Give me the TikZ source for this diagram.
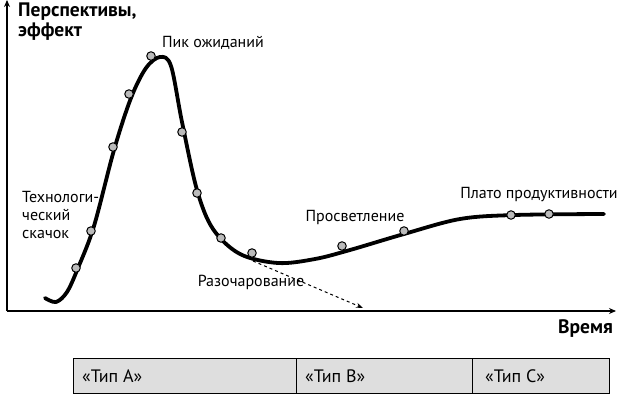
\documentclass[tikz,border=0pt]{standalone}
\usepackage{fontspec}
\setmainfont{PT Sans}
\usetikzlibrary{arrows.meta}
\definecolor{boxgray}{HTML}{DEDEDE}
\definecolor{dotgray}{HTML}{BBBBBB}
\tikzset{
  lbl/.style={inner sep=0pt, font=\fontsize{16}{18}\selectfont},
  bold/.style={inner sep=0pt, font=\fontsize{19.5}{21}\selectfont\bfseries},
  dot/.style={circle, draw=black, fill=dotgray, line width=1pt, minimum size=8.5pt, inner sep=0pt},
  phase/.style={draw=black, fill=boxgray, line width=1.2pt, minimum height=35pt, anchor=north west, inner sep=0pt},
  ptxt/.style={inner sep=0pt, anchor=west, font=\fontsize{18}{20}\selectfont},
  axis/.style={line width=1.8pt, -{Stealth[length=7pt,width=6pt]}}
}
\begin{document}
\begin{tikzpicture}[x=1pt,y=-1pt]
\useasboundingbox (0,0) rectangle (620,396);
% axes
\coordinate (O) at (7,311);
\coordinate (Ytop) at (7,0);
\coordinate (Xend) at (616,311);
\draw[axis] (O) -- (Ytop);
\draw[axis] (O) -- (Xend);
% axis labels
\node[bold, anchor=west] (ylab1) at (18,12) {Перспективы,};
\node[bold, anchor=west] (ylab2) at (18,32) {эффект};
\node[bold, anchor=east] (xlab) at (613,329) {Время};
% dashed arrow
\coordinate (dstart) at (253,261);
\coordinate (dend) at (363,308);
\draw[dashed, line width=1pt, -{Stealth[length=7pt,width=5pt]}] (dstart) -- (dend);
% curve
\draw[line width=3.8pt, line cap=round, line join=round] plot[smooth, tension=0.55] coordinates {
 (45,298) (56,302) (67,292) (78,268) (94,226) (114,150) (131,98) (146,68) (160,57) (171,66)
 (182,122) (197,190) (213,229) (240,254) (278,263) (315,259) (350,250) (404,234) (460,219) (515,215) (604,214)};
% dots
\foreach \i/\p in {1/{(76,268)},2/{(91,231)},3/{(113,147)},4/{(129,94)},5/{(151,56)},6/{(182,132)},7/{(197,193)},8/{(221,238)},9/{(252,253)},10/{(342,246)},11/{(404,231)},12/{(511,215)},13/{(549,214)}}
  \node[dot] (d\i) at \p {};
% labels
\node[lbl, align=left, anchor=north west] (tech) at (22,191) {Технологи-\\ческий\\скачок};
\node[lbl] (peak) at (213,43) {Пик ожиданий};
\node[lbl] (trough) at (251,282) {Разочарование};
\node[lbl] (slope) at (355,217) {Просветление};
\node[lbl] (plateau) at (539,195) {Плато продуктивности};
% phase boxes
\node[phase, minimum width=223pt] (pa) at (73,358) {};
\node[phase, minimum width=176pt] (pb) at (296,358) {};
\node[phase, minimum width=137pt] (pc) at (472,358) {};
\node[ptxt] (ta) at ([xshift=9pt]pa.west) {«Тип А»};
\node[ptxt] (tb) at ([xshift=9pt]pb.west) {«Тип В»};
\node[ptxt] (tc) at ([xshift=13pt]pc.west) {«Тип С»};
\end{tikzpicture}
\end{document}
